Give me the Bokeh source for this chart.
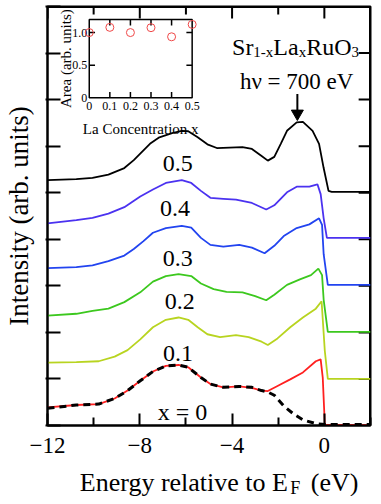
import math
from bokeh.plotting import figure
from bokeh.models import Range1d, FixedTicker, ColumnDataSource
from bokeh.core.properties import value
from bokeh.layouts import column
from bokeh.embed import file_html
from bokeh.resources import INLINE

FONT = "Liberation Serif"

# ---------------- data ----------------
# energies in eV, intensities without vertical offset
energy_x00 = [-12.0, -10.75, -9.78, -9.09, -8.53, -7.98, -7.43, -6.87, -6.32, -5.90,
              -5.35, -4.94, -4.38, -3.69, -3.14, -2.72, -2.45, -2.03, -1.48, -0.93,
              -0.37, -0.16, -0.07, 0.02, 2.0]
intens_x00 = [0.39, 0.44, 0.46, 0.58, 0.75, 0.96, 1.16, 1.28, 1.30, 1.25,
              1.03, 0.89, 0.82, 0.84, 0.81, 0.75, 0.74, 0.85, 0.99, 1.14,
              1.38, 1.42, 1.03, 0.02, 0.01]

energy_x01 = [-12.0, -10.75, -9.78, -9.09, -8.53, -7.98, -7.43, -6.87, -6.32, -5.90,
              -5.49, -5.07, -4.52, -3.83, -3.28, -2.72, -2.45, -2.03, -1.48, -0.93,
              -0.37, -0.12, 0.02, 0.15, 2.0]
intens_x01 = [0.35, 0.36, 0.38, 0.48, 0.62, 0.85, 1.11, 1.27, 1.32, 1.27,
              1.11, 0.96, 0.90, 0.94, 0.90, 0.80, 0.73, 0.87, 1.11, 1.32,
              1.51, 1.67, 0.60, 0.00, 0.00]

energy_x02 = [-12.0, -10.75, -10.05, -9.36, -8.67, -7.98, -7.43, -6.87, -6.32, -5.77,
              -5.35, -4.80, -4.24, -3.55, -3.00, -2.52, -2.17, -1.62, -1.06, -0.58,
              -0.26, -0.10, -0.03, 0.15, 2.0]
intens_x02 = [0.36, 0.40, 0.46, 0.51, 0.65, 0.86, 1.09, 1.21, 1.25, 1.21,
              1.05, 0.93, 0.87, 0.86, 0.78, 0.69, 0.81, 1.02, 1.14, 1.23,
              1.37, 1.23, 0.70, 0.01, 0.01]

energy_x03 = [-12.0, -10.75, -10.05, -9.36, -8.67, -8.26, -7.84, -7.43, -6.87, -6.18,
              -5.77, -5.35, -4.94, -4.38, -3.69, -3.14, -2.59, -2.17, -1.76, -1.20,
              -0.65, -0.23, -0.10, -0.03, 0.15, 2.0]
intens_x03 = [0.38, 0.40, 0.44, 0.53, 0.65, 0.79, 0.96, 1.14, 1.24, 1.29,
              1.25, 1.03, 0.88, 0.84, 0.88, 0.82, 0.70, 0.86, 1.07, 1.24,
              1.32, 1.45, 1.31, 0.68, 0.02, 0.02]

energy_x04 = [-12.0, -10.75, -10.05, -9.36, -8.67, -7.98, -7.43, -6.87, -6.18, -5.77,
              -5.35, -4.94, -4.38, -3.83, -3.14, -2.52, -2.17, -1.62, -1.20, -0.65,
              -0.30, -0.16, -0.03, 0.11, 2.0]
intens_x04 = [0.34, 0.41, 0.46, 0.55, 0.69, 0.92, 1.07, 1.21, 1.27, 1.21,
              1.04, 0.89, 0.87, 0.85, 0.78, 0.64, 0.73, 1.01, 1.13, 1.13,
              1.18, 0.97, 0.45, 0.03, 0.03]

energy_x05 = [-12.0, -10.75, -10.05, -9.36, -8.67, -8.26, -7.98, -7.56, -7.15, -6.60,
              -6.18, -5.90, -5.49, -5.07, -4.66, -4.11, -3.55, -3.14, -2.72, -2.45,
              -2.17, -1.89, -1.62, -1.20, -0.93, -0.51, -0.23, -0.03, 0.18, 0.32, 2.0]
intens_x05 = [0.27, 0.29, 0.32, 0.39, 0.53, 0.70, 0.84, 1.05, 1.19, 1.28,
              1.33, 1.32, 1.19, 1.04, 0.96, 0.97, 0.98, 0.94, 0.79, 0.69,
              0.77, 1.05, 1.33, 1.51, 1.52, 1.33, 1.05, 0.53, 0.04, 0.02, 0.02]

# fit to x = 0 spectrum (dashed)
energy_fit = [-12.0, -10.75, -9.78, -9.09, -8.53, -7.98, -7.43, -6.87, -6.32, -5.90,
              -5.35, -4.94, -4.38, -3.69, -3.14, -2.72, -2.45, -2.17, -1.76, -1.34,
              -0.93, -0.37, 0.04, 2.0]
intens_fit = [0.37, 0.44, 0.46, 0.58, 0.75, 0.96, 1.16, 1.28, 1.30, 1.25,
              1.03, 0.89, 0.82, 0.84, 0.82, 0.75, 0.72, 0.65, 0.42, 0.25,
              0.12, 0.04, 0.02, 0.02]

series_energy = [energy_x00, energy_x01, energy_x02, energy_x03, energy_x04, energy_x05]
series_intens = [intens_x00, intens_x01, intens_x02, intens_x03, intens_x04, intens_x05]
offsets = [0, 1, 2, 3, 4, 5]
series_labels = ["x = 0", "0.1", "0.2", "0.3", "0.4", "0.5"]
series_colors = ["#ff2020", "#b8d420", "#3cc81e", "#2244f0", "#4b32f0", "#000000"]

# inset: integrated area vs La concentration
inset_conc = [0.0, 0.1, 0.2, 0.3, 0.4, 0.5]
inset_area = [1.0, 1.08, 1.0, 1.075, 0.935, 1.125]

x_major = [-12, -8, -4, 0]
x_minor = [-10, -6, -2, 2]
y_ticks = [0, 1, 2, 3, 4, 5, 6, 7, 8, 9]
inset_x_ticks = [0, 0.1, 0.2, 0.3, 0.4, 0.5]
inset_x_labels = ["0", "0.1", "0.2", "0.3", "0.4", "0.5"]
inset_y_ticks = [0, 0.5, 1.0]
inset_y_labels = ["0", "0.5", "1.0"]

# ---------------- main figure ----------------
x0r, x1r, y0r, y1r = -12, 2, 0, 9
W, H = 373, 460
BL, BR, BT, BB = 43, 3, 6, 35
p = figure(width=W, height=H, x_range=Range1d(x0r, x1r), y_range=Range1d(y0r, y1r),
           output_backend="svg", toolbar_location=None,
           min_border_left=BL, min_border_right=BR, min_border_top=BT,
           min_border_bottom=BB)
p.grid.visible = False
p.outline_line_color = "black"
p.outline_line_width = 2
p.background_fill_color = "white"

xa = p.xaxis[0]
xa.ticker = FixedTicker(ticks=x_major, minor_ticks=x_minor)
xa.axis_line_width = 2
xa.major_tick_line_width = 2
xa.minor_tick_line_width = 2
xa.major_tick_in = 12
xa.major_tick_out = 0
xa.minor_tick_in = 8
xa.minor_tick_out = 0
xa.major_label_text_font = FONT
xa.major_label_text_font_size = "23px"
xa.major_label_text_color = "black"
xa.major_label_standoff = 12

ya = p.yaxis[0]
ya.ticker = FixedTicker(ticks=y_ticks)
ya.axis_line_width = 2
ya.major_tick_line_width = 2
ya.major_tick_in = 13
ya.major_tick_out = 2
ya.minor_tick_in = 0
ya.minor_tick_out = 0
ya.major_label_text_color = None
ya.major_label_standoff = 0
ya.axis_label = "Intensity (arb. units)"
ya.axis_label_text_font = FONT
ya.axis_label_text_font_size = "27px"
ya.axis_label_text_font_style = "normal"
ya.axis_label_text_color = "black"
ya.axis_label_standoff = 12

# frame edges and inward ticks on the top and right sides (drawn as glyphs)
px_x = (x1r - x0r) / float(W - BL - BR)    # data units per pixel, horizontally
px_y = (y1r - y0r) / float(H - BT - BB)    # data units per pixel, vertically
p.segment(x0=[x0r, x1r], y0=[y1r, y0r], x1=[x1r, x1r], y1=[y1r, y1r],
          line_color="black", line_width=3)
top_ticks = x_major + x_minor
top_len = [12 * px_y] * len(x_major) + [8 * px_y] * len(x_minor)
p.segment(x0=top_ticks, y0=[y1r] * len(top_ticks), x1=top_ticks,
          y1=[y1r - d for d in top_len], line_color="black", line_width=2)
p.segment(x0=[x1r] * len(y_ticks), y0=y_ticks, x1=[x1r - 12 * px_x] * len(y_ticks),
          y1=y_ticks, line_color="black", line_width=2)

for e, inten, off, col in zip(series_energy, series_intens, offsets, series_colors):
    p.line(e, [v + off for v in inten], line_color=col, line_width=1.8)

p.line(energy_fit, intens_fit, line_color="black", line_width=3, line_dash="7 5")

# series labels
label_src = ColumnDataSource(dict(
    x=[-6.15, -6.34, -6.27, -6.35, -6.47, -6.35],
    y=[0.30, 1.54, 2.66, 3.58, 4.66, 5.63],
    text=series_labels))
p.text(x="x", y="y", text="text", source=label_src, text_font=value(FONT),
       text_font_size="24px", text_align="center", text_baseline="alphabetic",
       text_color="black")

# compound title Sr(1-x)La(x)RuO(3) and photon energy
title_parts = ["Sr", "1-x", "La", "x", "RuO", "3"]
p.text(x=[-4.0] * 6, y=[8.14] * 6, text=title_parts,
       x_offset=[0, 21.3, 41.3, 66.6, 74.1, 119.4], y_offset=[0, 5, 0, 5, 0, 5],
       text_font=value(FONT),
       text_font_size=["24px", "15px", "24px", "15px", "24px", "15px"],
       text_align="left", text_baseline="alphabetic", text_color="black")
p.text(x=[-3.66], y=[7.38], text=["h\u03bd = 700 eV"], text_font=value(FONT),
       text_font_size="23px", text_align="left", text_baseline="alphabetic",
       text_color="black")

# arrow marking the peak (stem + head drawn as glyphs)
arrow_x, arrow_top, arrow_tip = -1.17, 7.12, 6.58
p.segment(x0=[arrow_x], y0=[arrow_top], x1=[arrow_x], y1=[arrow_tip + 0.15],
          line_color="black", line_width=2)
p.scatter(x=[arrow_x], y=[arrow_tip + 0.12], marker="inverted_triangle", size=12,
          fill_color="black", line_color="black")

# ---------------- inset (sub-coordinates inside the main frame) ----------------
ix0, ix1, iy0, iy1 = 0.0, 0.5, 0.0, 1.2
sub = p.subplot(x_source=Range1d(ix0, ix1), y_source=Range1d(iy0, iy1),
                x_target=Range1d(-10.19, -5.73), y_target=Range1d(7.04, 8.72))

tick_dx = 0.028   # ~6 px in inset x units
tick_dy = 0.09    # ~6 px in inset y units

sub.quad(left=[ix0], right=[ix1], bottom=[iy0], top=[iy1], fill_color=None,
         line_color="black", line_width=1.5)
inner_x = inset_x_ticks[1:-1]
inner_y = inset_y_ticks[1:]
sub.segment(x0=inner_x, y0=[iy0] * len(inner_x), x1=inner_x,
            y1=[iy0 + tick_dy] * len(inner_x), line_color="black", line_width=1.5)
sub.segment(x0=inner_x, y0=[iy1] * len(inner_x), x1=inner_x,
            y1=[iy1 - tick_dy] * len(inner_x), line_color="black", line_width=1.5)
sub.segment(x0=[ix0] * len(inner_y), y0=inner_y, x1=[ix0 + tick_dx] * len(inner_y),
            y1=inner_y, line_color="black", line_width=1.5)
sub.segment(x0=[ix1] * len(inner_y), y0=inner_y, x1=[ix1 - tick_dx] * len(inner_y),
            y1=inner_y, line_color="black", line_width=1.5)

sub.text(x=inset_x_ticks, y=[iy0] * len(inset_x_ticks), text=inset_x_labels,
         y_offset=4, text_font=value(FONT), text_font_size="12px",
         text_align="center", text_baseline="top", text_color="black")
sub.text(x=[ix0] * len(inset_y_ticks), y=inset_y_ticks, text=inset_y_labels,
         x_offset=-2, text_font=value(FONT), text_font_size="12px",
         text_align="right", text_baseline="middle", text_color="black")
sub.text(x=[(ix0 + ix1) / 2], y=[iy0], text=["La Concentration x"], y_offset=31,
         text_font=value(FONT), text_font_size="15px", text_align="center",
         text_baseline="alphabetic", text_color="black")
sub.text(x=[ix0], y=[(iy0 + iy1) / 2], text=["Area (arb. units)"], x_offset=-23,
         angle=math.pi / 2, text_font=value(FONT), text_font_size="15px",
         text_align="center", text_baseline="alphabetic", text_color="black")

sub.scatter(inset_conc, inset_area, marker="circle", size=8, fill_color=None,
            line_color="#f04848", line_width=1)

# ---------------- x axis title strip (E with subscript F) ----------------
lab = figure(width=W, height=36, x_range=p.x_range, y_range=Range1d(0, 36),
             x_axis_type=None, y_axis_type=None, output_backend="svg",
             toolbar_location=None, min_border_left=BL, min_border_right=BR,
             min_border_top=0, min_border_bottom=0)
lab.outline_line_color = None
lab.grid.visible = False
xlabel_parts = ["Energy relative to E", "F", "(eV)"]
lab.text(x=[-10.6] * 3, y=[14.0] * 3, text=xlabel_parts,
         x_offset=[0, 210.5, 231.0], y_offset=[0, 5, 0],
         text_font=value(FONT), text_font_size=["26px", "18px", "26px"],
         text_align="left", text_baseline="alphabetic", text_color="black")

open("out.html", "w").write(file_html(column(p, lab), INLINE))
